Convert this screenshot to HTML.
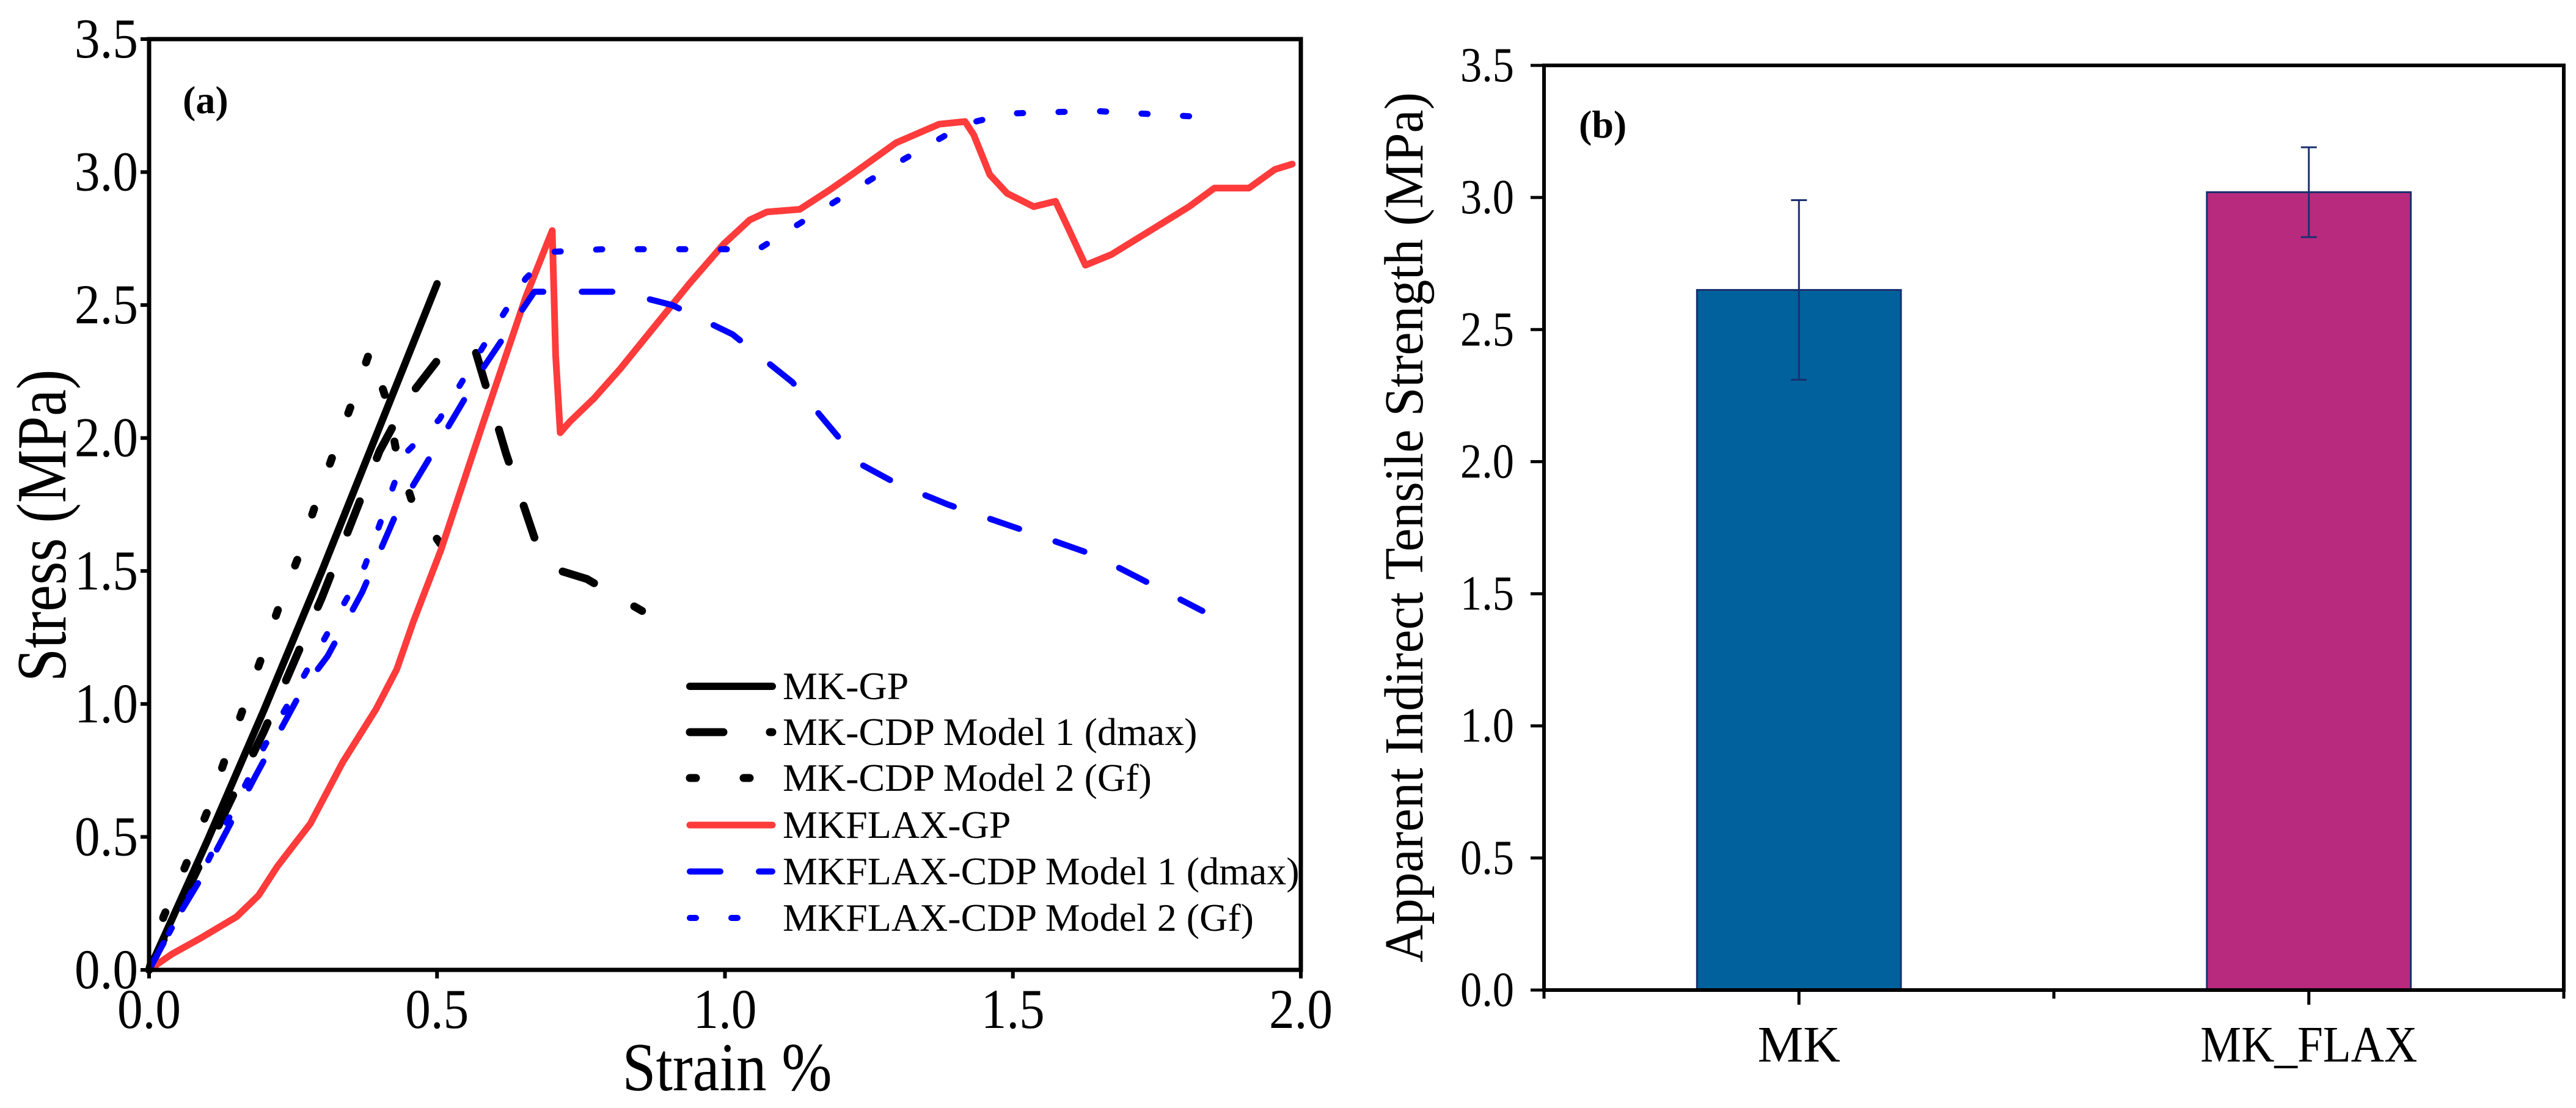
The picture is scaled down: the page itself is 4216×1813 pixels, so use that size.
<!DOCTYPE html>
<html><head><meta charset="utf-8"><style>
html,body{margin:0;padding:0;background:#fff;}
svg{display:block;font-family:"Liberation Serif",serif;}
</style></head><body>
<svg id="fig" width="4216" height="1813" viewBox="0 0 4216 1813" xmlns="http://www.w3.org/2000/svg">
<g id="pa"></g>
<g id="pb"></g>
</svg>
<script>
// ---- Panel (a) data ----
const aXTicks = [0, 0.5, 1.0, 1.5, 2.0];
const aXTickLabels = ["0.0", "0.5", "1.0", "1.5", "2.0"];
const aYTicks = [0, 0.5, 1, 1.5, 2, 2.5, 3, 3.5];
const aYTickLabels = ["0.0", "0.5", "1.0", "1.5", "2.0", "2.5", "3.0", "3.5"];
const mkGP = [[0,0],[0.1,0.48],[0.2,0.98],[0.3,1.5],[0.4,2.04],[0.5,2.58]];
const mkCDP1 = [[0,0],[0.1,0.45],[0.2,0.9],[0.3,1.4],[0.4,1.95],[0.45,2.15],[0.5,2.29],[0.565,2.34],[0.62,1.94],[0.67,1.62],[0.7,1.51],[0.76,1.47],[0.856,1.35]];
const mkCDP2 = [[0,0],[0.025,0.2],[0.063,0.39],[0.1,0.59],[0.13,0.78],[0.163,0.98],[0.193,1.16],[0.223,1.35],[0.257,1.54],[0.289,1.75],[0.32,1.94],[0.352,2.13],[0.384,2.33],[0.414,2.13],[0.43,1.94],[0.46,1.74],[0.51,1.59]];
const flaxGP = [[0,0],[0.04,0.06],[0.09,0.12],[0.152,0.2],[0.19,0.28],[0.223,0.39],[0.28,0.55],[0.336,0.78],[0.394,0.98],[0.43,1.13],[0.459,1.31],[0.507,1.58],[0.579,2.05],[0.654,2.53],[0.70,2.78],[0.706,2.31],[0.714,2.02],[0.73,2.06],[0.773,2.15],[0.818,2.26],[0.878,2.42],[0.938,2.58],[0.998,2.73],[1.043,2.82],[1.073,2.85],[1.13,2.86],[1.18,2.93],[1.22,2.99],[1.297,3.11],[1.372,3.18],[1.417,3.19],[1.432,3.14],[1.46,2.99],[1.49,2.92],[1.536,2.87],[1.574,2.89],[1.596,2.79],[1.626,2.65],[1.671,2.69],[1.746,2.79],[1.806,2.87],[1.85,2.94],[1.91,2.94],[1.955,3.01],[1.985,3.03]];
const flaxCDP1 = [[0,0],[0.05,0.2],[0.1,0.38],[0.185,0.73],[0.265,1.05],[0.31,1.18],[0.37,1.42],[0.43,1.72],[0.505,1.99],[0.579,2.26],[0.669,2.55],[0.818,2.55],[0.908,2.5],[1.013,2.39],[1.117,2.21],[1.237,1.9],[1.297,1.83],[1.387,1.75],[1.536,1.64],[1.641,1.56],[1.731,1.46],[1.829,1.35]];
const flaxCDP2 = [[0,0],[0.1,0.4],[0.2,0.84],[0.27,1.11],[0.375,1.52],[0.444,1.94],[0.504,2.07],[0.579,2.34],[0.654,2.6],[0.7,2.7],[0.788,2.71],[0.998,2.71],[1.058,2.71],[1.117,2.79],[1.237,2.95],[1.312,3.05],[1.417,3.18],[1.492,3.22],[1.641,3.23],[1.806,3.21]];
const aSeriesNames = ["MK-GP","MK-CDP Model 1 (dmax)","MK-CDP Model 2 (Gf)","MKFLAX-GP","MKFLAX-CDP Model 1 (dmax)","MKFLAX-CDP Model 2 (Gf)"];

// ---- Panel (b) data ----
const bCategories = ["MK", "MK_FLAX"];
const bValues = [2.65, 3.02];
const bErrLow = [2.31, 2.85];
const bErrHigh = [2.99, 3.19];
const bYTicks = [0, 0.5, 1, 1.5, 2, 2.5, 3, 3.5];
const bYTickLabels = ["0.0", "0.5", "1.0", "1.5", "2.0", "2.5", "3.0", "3.5"];

const NS = "http://www.w3.org/2000/svg";
function mk(tag, attrs, parent){const e=document.createElementNS(NS,tag);for(const k in attrs)e.setAttribute(k,attrs[k]);parent.appendChild(e);return e;}

// Panel a
const pa = document.getElementById('pa');
const AX0=244, AX1=2129, AY0=1587, AY1=64;
const ax = v => AX0 + (v-0)/(2-0)*(AX1-AX0);
const ay = v => AY0 - (v-0)/(3.5-0)*(AY0-AY1);
const styles = [
 {c:"#000",w:12,d:""},
 {c:"#000",w:13,d:"55 76"},
 {c:"#000",w:13,d:"10 78"},
 {c:"#ff3b3b",w:11,d:""},
 {c:"#0000ff",w:10,d:"50 63"},
 {c:"#0000ff",w:10,d:"10 58"}
];
const seriesData=[mkGP,mkCDP1,mkCDP2,flaxGP,flaxCDP1,flaxCDP2];
const seriesIds=["mk-gp-line","mk-cdp-model1-line","mk-cdp-model2-line","mkflax-gp-line","mkflax-cdp-model1-line","mkflax-cdp-model2-line"];
seriesData.forEach((s,i)=>{
  const d = s.map((p,j)=>(j?"L":"M")+ax(p[0]).toFixed(1)+","+ay(p[1]).toFixed(1)).join(" ");
  const el = mk('path',{d:d,fill:"none",stroke:styles[i].c,"stroke-width":styles[i].w,"stroke-linecap":"round","stroke-linejoin":"round"},pa);
  if(styles[i].d) el.setAttribute('stroke-dasharray',styles[i].d);
  
  
});
const fa = mk('rect',{x:AX0,y:AY1,width:AX1-AX0,height:AY0-AY1,fill:"none",stroke:"#000","stroke-width":7},pa);


aYTicks.forEach((v,i)=>{
  const t=mk('line',{x1:AX0-14,x2:AX0,y1:ay(v),y2:ay(v),stroke:"#000","stroke-width":6},pa);
  
  
  const l=mk('text',{x:226,y:ay(v)+30,"text-anchor":"end","font-size":92,textLength:104,lengthAdjust:"spacingAndGlyphs"},pa);
  l.textContent=aYTickLabels[i];
  
  
});
aXTicks.forEach((v,i)=>{
  const t=mk('line',{x1:ax(v),x2:ax(v),y1:AY0,y2:AY0+14,stroke:"#000","stroke-width":6},pa);
  
  
  const l=mk('text',{x:ax(v),y:1682,"text-anchor":"middle","font-size":92,textLength:104,lengthAdjust:"spacingAndGlyphs"},pa);
  l.textContent=aXTickLabels[i];
  
  
});
let t=mk('text',{x:1190,y:1784,"text-anchor":"middle","font-size":112,textLength:343,lengthAdjust:"spacingAndGlyphs"},pa);
t.textContent="Strain %";


t=mk('text',{x:0,y:0,"text-anchor":"middle","font-size":115,textLength:511,lengthAdjust:"spacingAndGlyphs",transform:"translate(107,860) rotate(-90)"},pa);
t.textContent="Stress (MPa)";


t=mk('text',{x:299,y:185,"font-size":64,"font-weight":"bold"},pa);
t.textContent="(a)";


const legY=[1123,1198,1273,1350,1426,1502];
aSeriesNames.forEach((n,i)=>{
  const g=mk('g',{},pa);
  
  
  const ln=mk('line',{x1:1129,x2:1264,y1:legY[i],y2:legY[i],stroke:styles[i].c,"stroke-width":styles[i].w,"stroke-linecap":"round"},g);
  if(styles[i].d) ln.setAttribute('stroke-dasharray',styles[i].d);
  
  
  const tx=mk('text',{x:1281,y:legY[i]+21,"font-size":64},g);
  tx.textContent=n;
  
  
});

// Panel b
const pb=document.getElementById('pb');
const BX0=2527, BX1=4196, BY0=1620, BY1=107;
const bx = v => BX0 + (v-0.5)/(2.5-0.5)*(BX1-BX0);
const by = v => BY0 - v/3.5*(BY0-BY1);
const barColors=["#00619c","#b82a7d"];
bCategories.forEach((c,i)=>{
  const cx=bx(i+1), half=(bx(1.2)-bx(1));
  const r=mk('rect',{x:cx-half,y:by(bValues[i]),width:2*half,height:by(0)-by(bValues[i]),fill:barColors[i],stroke:"#1a2f6e","stroke-width":3},pb);
  
  
  const e=mk('path',{d:`M${cx},${by(bErrLow[i])}V${by(bErrHigh[i])}M${cx-13},${by(bErrLow[i])}H${cx+13}M${cx-13},${by(bErrHigh[i])}H${cx+13}`,stroke:"#1a2f6e","stroke-width":3,fill:"none"},pb);
  
  
  const l=mk('text',{x:cx,y:1737,"text-anchor":"middle","font-size":84},pb);
  l.textContent=c;
  if(i==1){l.setAttribute('textLength',355);l.setAttribute('lengthAdjust','spacingAndGlyphs');}
  
  
});
const fb=mk('path',{d:`M${BX0},${BY1}H${BX1}V${BY0}H${BX0}Z`,fill:"none",stroke:"#000","stroke-width":6},pb);


bYTicks.forEach((v,i)=>{
  const tk=mk('line',{x1:BX0-22,x2:BX0,y1:by(v),y2:by(v),stroke:"#000","stroke-width":5},pb);
  
  
  const l=mk('text',{x:2478,y:by(v)+26,"text-anchor":"end","font-size":80,textLength:88,lengthAdjust:"spacingAndGlyphs"},pb);
  l.textContent=bYTickLabels[i];
  
  
});
[0.5,1,1.5,2,2.5].forEach(v=>{
  const tk=mk('line',{x1:bx(v),x2:bx(v),y1:BY0,y2:BY0+(v%1===0?24:14),stroke:"#000","stroke-width":5},pb);
  
  
});
t=mk('text',{x:0,y:0,"text-anchor":"middle","font-size":90,textLength:1424,lengthAdjust:"spacingAndGlyphs",transform:"translate(2328,863) rotate(-90)"},pb);
t.textContent="Apparent Indirect Tensile Strength (MPa)";


t=mk('text',{x:2584,y:225,"font-size":64,"font-weight":"bold"},pb);
t.textContent="(b)";


</script>
</body></html>
